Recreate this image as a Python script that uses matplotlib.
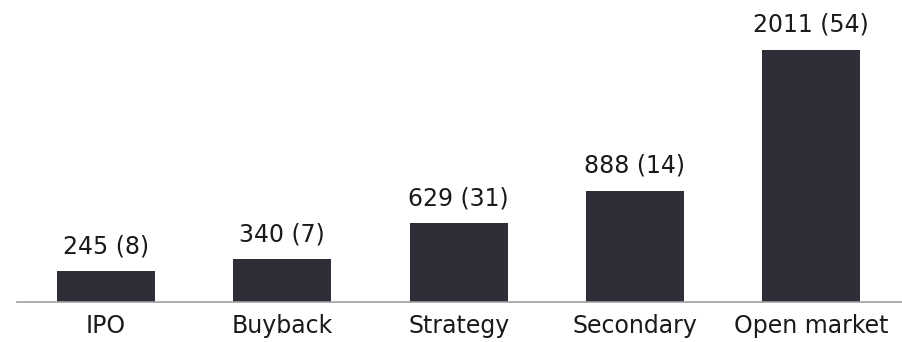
import matplotlib
matplotlib.use("Agg")
import matplotlib.pyplot as plt

categories = ["IPO", "Buyback", "Strategy", "Secondary", "Open market"]
values = [245, 340, 629, 888, 2011]
counts = [8, 7, 31, 14, 54]

bar_color = "#2e2e38"
text_color = "#1a1a1a"

fig = plt.figure(figsize=(9.03, 3.42), dpi=100)
ax = fig.add_axes([17 / 903, 40 / 342, 1 - 17 / 903, 302 / 342])

x = range(len(categories))
bars = ax.bar(x, values, width=0.555, color=bar_color, zorder=2)

for rect, v, n in zip(bars, values, counts):
    ax.annotate(f"{v} ({n})",
                xy=(rect.get_x() + rect.get_width() / 2, rect.get_height()),
                xytext=(0, 12.7), textcoords="offset points",
                ha="center", va="baseline", fontsize=17, color=text_color)

ax.set_xlim(-0.505, 4.52)
ax.set_ylim(0, 2406)
ax.set_xticks(list(x))
ax.set_xticklabels(categories, fontsize=17, color=text_color)
ax.tick_params(axis="x", length=0, pad=8.5)
ax.set_yticks([])
for side in ("top", "right", "left"):
    ax.spines[side].set_visible(False)
ax.spines["bottom"].set_color("#a0a0a0")
ax.spines["bottom"].set_linewidth(1.2)

fig.savefig("out.png", dpi=100)
